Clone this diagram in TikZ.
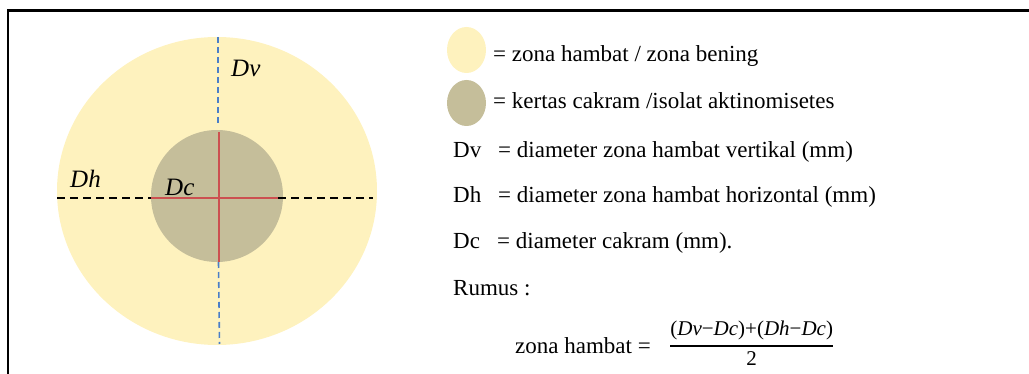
\documentclass[tikz,border=0pt]{standalone}
\usepackage{fontspec}
\setmainfont{Liberation Serif}
\usepackage{amsmath}
\definecolor{zoneY}{HTML}{FEF2BE}
\definecolor{diskB}{HTML}{C5BE9A}
\definecolor{redL}{HTML}{CC5050}
\definecolor{blueL}{HTML}{4A7EC8}
\tikzset{
  txt/.style={anchor=base west, inner sep=0pt, font=\fontsize{23}{26}\selectfont},
  lbl/.style={anchor=base west, inner sep=0pt, font=\fontsize{25}{28}\selectfont\itshape},
  blk/.style={black, line width=2pt, dash pattern=on 8pt off 5pt},
  blu/.style={blueL, line width=1.6pt, dash pattern=on 6pt off 4pt},
  rd/.style={redL, line width=2pt},
}
\begin{document}
\begin{tikzpicture}[x=1pt,y=-1pt]
\useasboundingbox (0,0) rectangle (1029,374);
% frame
\draw[line width=2.2pt] (8,374) -- (8,10.5) -- (1029,10.5);
% circles
\fill[zoneY] (217,191) ellipse [x radius=160, y radius=154];
\fill[diskB] (217,196) circle [radius=66];
% coordinates
\coordinate (hl) at (57,198.5);
\coordinate (hr) at (373,198.5);
\coordinate (rl) at (151,198.5);
\coordinate (rr) at (278,198.5);
\coordinate (vt) at (218,37);
\coordinate (vtm) at (218,123);
\coordinate (rt) at (218.5,132);
\coordinate (rb) at (218.5,262);
\coordinate (vb) at (219.5,344);
\draw[blk] (hl) -- (rl);
\draw[blk] (rr) -- (hr);
\draw[blu] (vt) -- (vtm);
\draw[blu] (rb) -- (vb);
\draw[rd] (rl) -- (rr);
\draw[rd] (rt) -- (rb);
% labels
\node[lbl] (dv) at (231,77) {Dv};
\node[lbl] (dh) at (70,188) {Dh};
\node[lbl] (dc) at (165,196) {Dc};
% legend
\fill[zoneY] (466.5,50) ellipse [x radius=19.5, y radius=23];
\fill[diskB] (466.5,103) ellipse [x radius=19.5, y radius=23];
\node[txt] (l1) at (493,62) {= zona hambat / zona bening};
\node[txt] (l2) at (493,109) {= kertas cakram /isolat aktinomisetes};
\node[txt] (l3a) at (453,158) {Dv};
\node[txt] (l3) at (498,158) {= diameter zona hambat vertikal (mm)};
\node[txt] (l4a) at (453,203) {Dh};
\node[txt] (l4) at (498,203) {= diameter zona hambat horizontal (mm)};
\node[txt] (l5a) at (453,249) {Dc};
\node[txt] (l5) at (497,249) {= diameter cakram (mm).};
\node[txt] (l6) at (453,296) {Rumus :};
\node[txt] (f1) at (515,353) {zona hambat =};
\node[anchor=base west, inner sep=0pt, font=\fontsize{21}{24}\selectfont] (f2) at (669,351)
  {$\genfrac{}{}{1.6pt}{0}{\text{(\textit{Dv}−\textit{Dc})+(\textit{Dh}−\textit{Dc})}}{\text{2}}$};
\end{tikzpicture}
\end{document}
